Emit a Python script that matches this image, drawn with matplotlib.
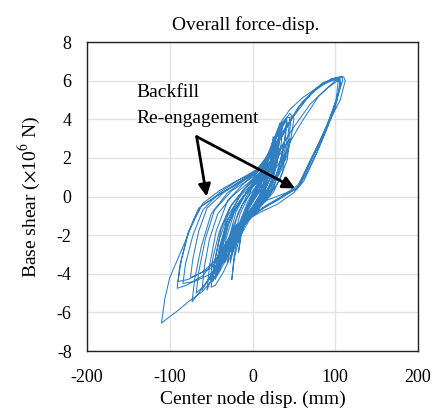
import matplotlib
matplotlib.use("Agg")
import matplotlib.pyplot as plt

plt.rcParams['font.family'] = ['Liberation Serif', 'DejaVu Serif']
plt.rcParams['mathtext.fontset'] = 'stix'
plt.rcParams['axes.unicode_minus'] = False

# Respuesta histerética: desplazamiento del nodo central (mm) y cortante basal (x10^6 N)
disp = [
    0, 10, 18, 15, 5, -8, -14, -17,
    -14, -6, 5, 15, 25, 28, 25, 15, 0, -12, -22, -27,
    -24, -15, 0, 12, 22, 30, 33, 31, 22, 8, -10, -25, -38, -45,
    -42, -32, -15, 2, 15, 25, 35, 41, 42, 38, 28, 12, -8, -25, -42, -55,
    -52, -44, -30, -10, 8, 20, 35, 45, 47, 44, 35, 20, 0, -20, -35, -50, -65, -73,
    -70, -62, -50, -30, -5, 15, 35, 60, 85, 100, 104, 101, 88, 70, 55, 30, 5, -20, -40, -60, -80, -91,
    -88, -78, -62, -40, -15, 5, 20, 40, 70, 95, 108, 109, 96, 78, 60, 53, 25, 0, -23, -35, -43, -60, -76, -90, -110,
    -106, -100, -90, -80, -70, -60, -40, -20, 0, 17, 25, 35, 45, 60, 80, 95, 102, 110, 112, 106, 94, 82, 70, 60, 54,
    35, 17, 0, -20, -32, -45, -58, -68,
    -65, -57, -46, -25, 0, 18, 35, 55, 80, 96, 105, 106, 100, 88, 75, 62, 50, 30, 10, -10, -28, -40, -48,
    -45, -38, -25, -5, 12, 22, 35, 42, 45, 43, 36, 25, 8, -10, -25, -33,
    -30, -20, -5, 10, 20, 30, 36, 35, 25, 10, -8, -20, -24,
    -18, -5, 10, 20, 15, 0, -12, -8, 5, 12,
    22, 30, 35, 40, 41, 39, 33, 22, 5, -15, -30, -45, -60, -78, -90,
    -86, -77, -65, -45, -20, 0, 15, 25, 37, 49, 50, 46, 40, 37, 45, 60, 80, 100, 106, 104, 92, 78, 64, 56,
    40, 20, 0, -15, -25, -35, -50, -70, -84,
    -81, -72, -60, -40, -15, 5, 18, 28, 33, 34, 31, 24, 12, -5, -20, -35, -50, -65, -75,
    -72, -65, -55, -35, -10, 10, 22, 25, 26, 23, 15, 0, -15, -30, -45, -55, -61,
    -58, -52, -42, -25, -5, 12, 20, 14, 0, -12, -25, -38, -51,
    -48, -40, -28, -10, 5, 15, 10, -2, -15, -28, -39,
    -36, -28, -15, 0, 10, 5, -8, -20, -27, -30,
    -26, -18, -5, 8, 18, 25, 22, 10, -5, -15, -22, -25,
    -22, -15, -3, 10, 20, 30, 38, 35, 25, 10, -5, -18, -35, -45, -50,
    -47, -40, -30, -15, 0, 15, 25, 32, 30, 22, 8, -8, -20, -32, -42,
    -38, -30, -18, -2, 12, 8, -5, -18, -10, 0, 8,
    18, 28, 24, 12, -2, -15, -32, -36,
    -32, -22, -8, 5, 20, 30, 28, 18, 4, -10, -25, -40, -43,
    -40, -32, -20, -5, 10, 22, 35, 45, 42, 32, 18, 2, -12, -22, -30,
    -24, -12, 2, 15, 8, -5, -18, -12, 0, 10,
    20, 30, 40, 36, 25, 10, -5, -20, -35, -45, -40, -30, -15, 0, 10,
    20, 35, 50, 70, 90, 103, 107, 102, 90, 76, 63, 55, 35, 15, 0,
]
shear = [
    0.0, 0.9, 1.7, 0.6, -0.3, -1.0, -2.1, -2.9,
    -1.9, -0.5, 0.6, 1.5, 2.6, 2.9, 1.8, 0.4, -0.6, -1.4, -2.6, -3.45,
    -2.4, -0.9, 0.5, 1.3, 2.4, 3.4, 3.8, 2.7, 1.0, -0.3, -1.2, -2.2, -3.6, -4.3,
    -3.2, -1.4, 0.1, 1.0, 1.8, 2.9, 3.8, 4.05, 3.8, 2.6, 1.0, -0.2, -1.1, -2.0, -3.5, -4.85,
    -3.6, -1.8, -0.2, 0.7, 1.4, 2.3, 3.7, 4.3, 4.2, 3.0, 1.4, 0.1, -0.8, -1.6, -2.8, -4.1, -5.0, -5.45,
    -4.3, -2.6, -0.9, 0.2, 1.0, 1.7, 3.2, 4.9, 5.9, 6.1, 6.15, 5.0, 3.4, 1.8, 0.5, -0.2, -0.8, -1.5, -3.0, -4.1, -4.6, -4.75,
    -3.6, -1.9, -0.5, 0.1, 0.8, 1.3, 2.2, 3.6, 5.3, 6.1, 6.2, 6.0, 4.3, 2.5, 0.9, 0.4, -0.3, -0.9, -1.6, -2.8, -4.0, -4.9, -5.4, -5.9, -6.55,
    -5.3, -4.2, -3.2, -2.2, -1.1, -0.35, 0.3, 0.8, 1.2, 1.7, 2.9, 3.9, 4.5, 5.1, 5.7, 6.05, 6.17, 6.2, 6.0, 5.0, 4.0, 2.9, 1.9, 1.0, 0.4,
    0.1, -0.2, -0.9, -1.7, -2.8, -3.9, -4.6, -5.0,
    -3.9, -2.2, -0.7, 0.3, 1.0, 1.8, 3.1, 4.6, 5.7, 6.0, 6.1, 5.8, 4.6, 3.3, 2.0, 0.8, 0.2, -0.4, -0.8, -1.3, -2.4, -3.6, -4.4,
    -3.2, -1.7, -0.4, 0.6, 1.4, 2.4, 3.6, 4.1, 4.1, 3.2, 1.8, 0.4, -0.6, -1.4, -2.5, -3.4,
    -2.4, -0.8, 0.4, 1.2, 2.0, 3.2, 3.7, 2.8, 0.9, -0.3, -1.2, -2.2, -2.8,
    -1.6, -0.2, 0.9, 1.6, 0.3, -0.7, -1.5, -0.6, 0.4, 0.9,
    1.9, 2.9, 3.5, 3.9, 3.96, 3.0, 1.6, 0.4, -0.6, -1.5, -2.4, -3.3, -3.9, -4.3, -4.4,
    -3.3, -1.8, -0.6, 0.0, 0.6, 1.1, 1.6, 2.3, 3.2, 4.2, 4.0, 2.9, 1.9, 1.8, 2.8, 3.9, 5.2, 6.0, 6.1, 5.4, 3.8, 2.3, 1.1, 0.5,
    0.1, -0.4, -1.0, -1.6, -2.6, -3.4, -4.0, -4.4, -4.5,
    -3.5, -2.0, -0.7, 0.2, 0.9, 1.4, 2.1, 3.0, 3.6, 3.4, 2.4, 1.2, 0.1, -0.8, -1.8, -2.9, -3.7, -4.0, -4.2,
    -3.2, -1.8, -0.6, 0.2, 0.9, 1.4, 2.3, 3.1, 2.9, 1.8, 0.5, -0.5, -1.5, -2.6, -3.7, -4.4, -4.85,
    -3.6, -2.2, -0.9, 0.0, 0.7, 1.3, 1.8, 0.6, -0.3, -1.2, -2.3, -3.5, -4.3,
    -3.2, -1.8, -0.6, 0.4, 1.0, 1.5, 0.5, -0.4, -1.4, -2.6, -3.6,
    -2.6, -1.3, -0.2, 0.6, 1.1, 0.2, -0.8, -2.0, -2.7, -3.4,
    -2.3, -0.9, 0.2, 0.9, 1.5, 2.2, 1.0, -0.1, -1.0, -2.0, -3.2, -4.3,
    -3.0, -1.5, -0.2, 0.7, 1.3, 2.0, 2.8, 1.6, 0.5, -0.4, -1.3, -2.3, -3.9, -4.6, -4.7,
    -3.6, -2.2, -1.0, 0.0, 0.7, 1.4, 2.1, 2.8, 1.8, 0.7, -0.3, -1.1, -1.9, -3.0, -3.9,
    -2.8, -1.5, -0.4, 0.5, 1.2, 0.3, -0.6, -1.7, -0.9, -0.1, 0.6,
    1.2, 1.9, 0.8, -0.2, -0.9, -1.9, -3.2, -3.3,
    -2.2, -0.8, 0.2, 0.8, 1.6, 2.5, 1.5, 0.3, -0.6, -1.5, -2.7, -3.9, -4.1,
    -3.0, -1.6, -0.5, 0.3, 0.9, 1.5, 2.3, 3.0, 1.9, 0.8, -0.1, -0.8, -1.6, -2.4, -2.8,
    -1.6, -0.4, 0.4, 1.0, 0.0, -1.0, -2.2, -1.2, 0.0, 0.5,
    1.0, 1.6, 2.2, 1.2, 0.2, -0.5, -1.2, -2.0, -3.0, -3.8, -2.6, -1.2, -0.2, 0.5, 1.0,
    1.6, 2.6, 3.6, 4.8, 5.6, 6.0, 5.9, 5.0, 3.7, 2.4, 1.2, 0.6, 0.0, -0.5, -1.0,
]

xticks = [-200, -100, 0, 100, 200]
yticks = [-8, -6, -4, -2, 0, 2, 4, 6, 8]

fig = plt.figure(figsize=(4.35, 4.08), dpi=100)
ax = fig.add_axes([0.2, 0.1397, 0.761, 0.7573])

ax.plot(disp, shear, color='#2f7fc1', lw=0.75)

ax.set_xlim(-200, 200)
ax.set_ylim(-8, 8)
ax.set_xticks(xticks)
ax.set_yticks(yticks)
ax.grid(True, color='#e3e3e3', lw=1.0)
ax.set_axisbelow(True)
ax.tick_params(direction='in', length=0, labelsize=13)
ax.tick_params(axis='x', pad=13)
ax.tick_params(axis='y', pad=11)
for s in ax.spines.values():
    s.set_color('#222222')
    s.set_linewidth(1.0)

ax.set_title('Overall force-disp.', fontsize=14, pad=9, x=0.478)
ax.set_xlabel('Center node disp. (mm)', fontsize=14, labelpad=3)
ax.set_ylabel(r'Base shear ($\times$10$^6$ N)', fontsize=14, labelpad=11)

# Anotación del reenganche del relleno
ax.text(-140.8, 5.17, 'Backfill', fontsize=14, ha='left', va='baseline')
ax.text(-140.8, 3.82, 'Re-engagement', fontsize=14, ha='left', va='baseline')
for punta in [(-55.4, 0.0), (51.4, 0.42)]:
    ax.annotate('', xy=punta, xytext=(-67.5, 3.1),
                arrowprops=dict(arrowstyle='-|>', color='black', lw=2.0,
                                mutation_scale=18, shrinkA=0, shrinkB=0))

fig.savefig('out.png', dpi=100)
